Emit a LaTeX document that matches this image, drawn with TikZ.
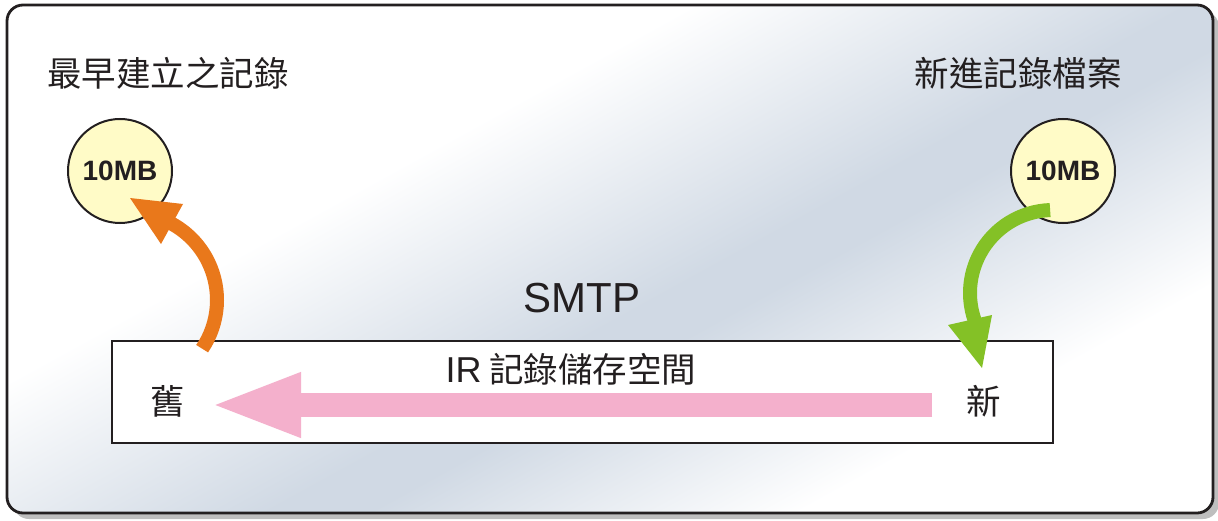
\documentclass[tikz,border=0pt]{standalone}
\usepackage{fontspec}
\newfontfamily\cjk{Noto Sans CJK TC}
\newfontfamily\lat{Liberation Sans}
\usetikzlibrary{arrows.meta,calc}
\definecolor{bandc}{RGB}{208,217,228}
\definecolor{ink}{RGB}{35,31,32}
\definecolor{shadowc}{RGB}{190,190,190}
\definecolor{orng}{RGB}{233,120,27}
\definecolor{grn}{RGB}{132,193,38}
\definecolor{pnk}{RGB}{244,176,204}
\definecolor{yel}{RGB}{255,251,199}
\pgfdeclarehorizontalshading{bgband}{100bp}{color(0bp)=(white); color(41.5bp)=(white); color(49bp)=(bandc); color(50.5bp)=(bandc); color(57bp)=(white); color(100bp)=(white)}
\begin{document}
\begin{tikzpicture}[x=0.5pt,y=0.5pt,
  cjktext/.style={font=\cjk\fontsize{17.25}{20}\selectfont, text=ink, inner sep=0},
  mbcircle/.style={circle, draw=ink, fill=yel, line width=1pt, minimum size=52pt, inner sep=0,
     font=\lat\bfseries\fontsize{14}{16}\selectfont, text=ink},
  curvearrow/.style={line width=7pt},
  pinkarrow/.style={draw=pnk, line width=12pt, -{Triangle[length=46pt,width=29pt]}}
]
\useasboundingbox (0,0) rectangle (1218,520);
% shadow and background panel
\fill[shadowc, rounded corners=8pt] (13,1) rectangle (1219,509);
\begin{scope}
  \clip[rounded corners=8pt] (7,7) rectangle (1213,515);
  \begin{scope}[transform canvas={shift={(720,220)},rotate=-61.2}]
    \shade[shading=bgband] (-800,-800) rectangle (800,800);
  \end{scope}
\end{scope}
\draw[ink, line width=1.4pt, rounded corners=8pt] (7,7) rectangle (1213,515);

% storage box
\node[draw=ink, line width=1pt, fill=white, minimum width=470.5pt, minimum height=51pt,
      inner sep=0, anchor=south west] (store) at (111,76) {};

% titles
\node[cjktext] (oldtitle) at (168,447) {最早建立之記錄};
\node[cjktext] (newtitle) at (1018,447) {新進記錄檔案};

% circles
\node[mbcircle] (oldmb) at (120,349) {10MB};
\node[mbcircle] (newmb) at (1063,349) {10MB};

% labels
\node[font=\lat\fontsize{21}{24}\selectfont, text=ink, inner sep=0] (smtp) at (582,222) {SMTP};
\node[cjktext] (ir) at (571,151) {{\lat\fontsize{18}{20}\selectfont IR} 記錄儲存空間};
\node[cjktext] (oldlbl) at (168,119) {舊};
\node[cjktext] (newlbl) at (984,119) {新};

% pink arrow
\coordinate (pinkstart) at (932,115);
\coordinate (pinkend) at (209,115);
\draw[pinkarrow] (pinkstart) -- (pinkend);

% orange arrow (old -> circle)
\coordinate (oc) at (130,220);
\coordinate (otail) at ($(oc)+(-34:87)$);
\draw[orng, curvearrow] (otail) arc[start angle=-34, end angle=63, radius=87];
\fill[orng] (130,322) -- (183,316) -- (161,276) -- cycle;

% green arrow (circle -> new)
\coordinate (gc) at (1053,227);
\coordinate (gtail) at ($(gc)+(92:83)$);
\draw[grn, curvearrow] (gtail) arc[start angle=92, end angle=199, radius=83];
\fill[grn] (982,152) -- (948,195) -- (992,205) -- cycle;
\end{tikzpicture}
\end{document}
